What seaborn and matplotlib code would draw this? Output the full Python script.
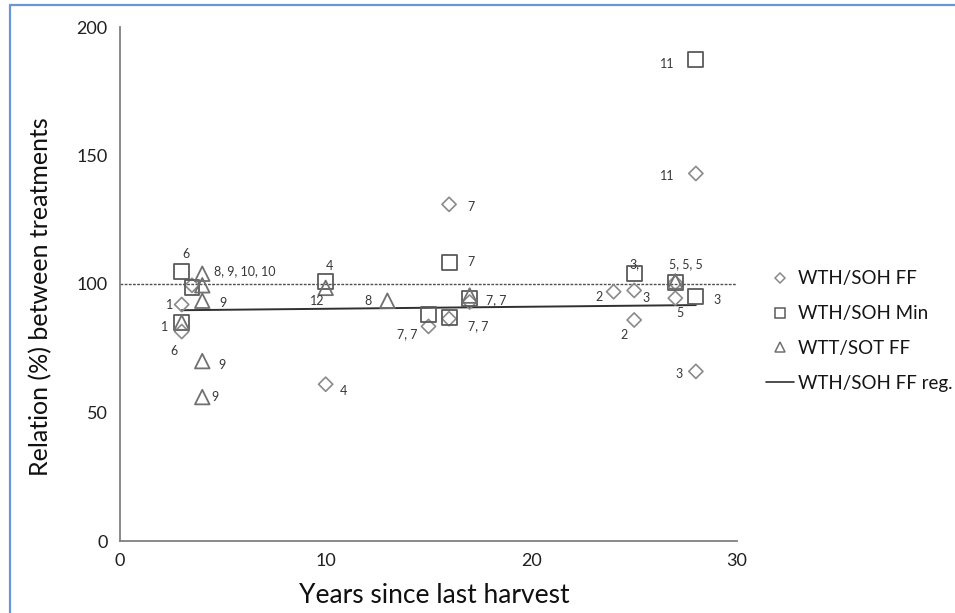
import numpy as np
import pandas as pd
import matplotlib
matplotlib.use("Agg")
import matplotlib.pyplot as plt
from matplotlib.lines import Line2D
import seaborn as sns

# ---- data ------------------------------------------------------------------
ff_years = [3, 3, 3.5, 10, 15, 16, 16, 17, 24, 25, 25, 27, 27, 28, 28]
ff_rel   = [92, 81.5, 99.5, 61, 83.5, 131, 86.5, 93, 97, 97.5, 86, 100.5, 94.5, 66, 143]

min_years = [3, 3, 3.5, 10, 15, 16, 16, 17, 25, 27, 28, 28]
min_rel   = [105, 85, 98.5, 101, 88, 108.5, 87, 94.5, 104, 100.5, 95, 187.5]

wtt_years = [4, 4, 4, 3, 4, 4, 10, 13, 17, 27]
wtt_rel   = [104, 99.5, 93.5, 85, 70, 56, 98.5, 93.5, 95.5, 101]

reg_years = [3, 28]
reg_rel   = [89.8, 91.8]

ref_level = 100

# point labels: text, anchor (x, y)
label_text = ["6", "8, 9, 10, 10", "1", "9", "1", "6", "9", "9", "4", "12", "8", "4",
              "7", "7", "7, 7", "7, 7", "7, 7", "3,", "5, 5, 5", "2", "3", "3", "5",
              "2", "3", "11", "11"]
label_x = [3, 4, 3, 4, 3, 3, 4, 4, 10, 10, 13, 10,
           16, 16, 17, 15, 16, 25, 27, 24, 25, 28, 27,
           25, 28, 28, 28]
label_y = [105, 104, 92, 93.5, 85, 81.5, 70, 56, 101, 98.5, 93.5, 61,
           131, 108.5, 94.5, 83.5, 87, 104, 100.5, 97, 97.5, 95, 94.5,
           86, 66, 187.5, 143]

# layout: label offsets in pixels from anchor, alignment
label_dx = [4, 12, -12, 21, -17, -8, 20, 13, 4, -8, -19, 18,
            22, 22, 16, -21, 19, 0, -6, -15, 12, 21, 5,
            -10, -17, -29, -29]
label_dy = [17, 3, 0, -2, -4, -19, -4, 0, 15, -13, 0, -7,
            -3, 0, -2, -8, -9, 10, 19, -5, -8, -3, -15,
            -15, -3, -5, -3]
label_ha = ["center", "left", "center", "center", "center", "center", "center", "center",
            "center", "center", "center", "center", "center", "center", "left", "center",
            "left", "center", "left", "center", "center", "center", "center", "center",
            "center", "center", "center"]

# ---- style ------------------------------------------------------------------
sns.set_style("white")
plt.rcParams["font.family"] = ["Lato", "DejaVu Sans"]

C_FF  = "#8a8a8a"
C_MIN = "#5a5a5a"
C_WTT = "#707070"
C_TXT = "#383838"
AXIS  = "#808080"

W, H = 955, 613
fig = plt.figure(figsize=(W / 100, H / 100), dpi=100)
ax = fig.add_axes([120 / W, 1 - 541 / H, (737 - 120) / W, (541 - 27) / H])

df_ff = pd.DataFrame({"years": ff_years, "rel": ff_rel})
df_min = pd.DataFrame({"years": min_years, "rel": min_rel})
df_wtt = pd.DataFrame({"years": wtt_years, "rel": wtt_rel})

ax.hlines(ref_level, 0, 30, colors="#505050", linestyles=(0, (2, 1)), linewidth=1.0, zorder=1)
sns.lineplot(x=reg_years, y=reg_rel, color="#303030", linewidth=1.4, ax=ax, zorder=2)

sns.scatterplot(data=df_ff, x="years", y="rel", marker="D", s=52,
                facecolor="none", edgecolor=C_FF, linewidth=1.2, ax=ax, zorder=3)
sns.scatterplot(data=df_min, x="years", y="rel", marker="s", s=115,
                facecolor="none", edgecolor=C_MIN, linewidth=1.3, ax=ax, zorder=3)
sns.scatterplot(data=df_wtt, x="years", y="rel", marker="^", s=110,
                facecolor="none", edgecolor=C_WTT, linewidth=1.3, ax=ax, zorder=3)

for t, x, y, dx, dy, ha in zip(label_text, label_x, label_y, label_dx, label_dy, label_ha):
    ax.annotate(t, (x, y), xytext=(dx, dy), textcoords="offset pixels",
                ha=ha, va="center", fontsize=9, color=C_TXT)

ax.set_xlim(0, 30)
ax.set_ylim(0, 200)
ax.set_xticks([0, 10, 20, 30])
ax.set_yticks([0, 50, 100, 150, 200])
ax.tick_params(axis="both", length=0, labelsize=13, labelcolor="#202020")
ax.tick_params(axis="y", pad=9)
ax.tick_params(axis="x", pad=9)
sns.despine(ax=ax)
for side in ["left", "bottom"]:
    ax.spines[side].set_color(AXIS)
    ax.spines[side].set_linewidth(1.3)

ax.set_xlabel("Years since last harvest", fontsize=19, color="#101010")
ax.set_ylabel("Relation (%) between treatments", fontsize=18, color="#101010")
ax.xaxis.set_label_coords(0.51, -0.082)
ax.yaxis.set_label_coords(-0.110, 0.475)

handles = [
    Line2D([], [], marker="D", ls="none", ms=5, mfc="none", mec=C_FF, mew=1.1),
    Line2D([], [], marker="s", ls="none", ms=7, mfc="none", mec=C_MIN, mew=1.1),
    Line2D([], [], marker="^", ls="none", ms=7, mfc="none", mec=C_WTT, mew=1.1),
    Line2D([], [], color="#303030", lw=1.2),
]
names = ["WTH/SOH FF", "WTH/SOH Min", "WTT/SOT FF", "WTH/SOH FF reg."]
fig.legend(handles, names, loc="center left", bbox_to_anchor=(766 / W, 1 - 331 / H),
           frameon=False, fontsize=13.5, handlelength=1.5, handletextpad=0.2,
           labelspacing=0.95, borderpad=0, borderaxespad=0)
for txt in fig.legends[0].get_texts():
    txt.set_color("#151515")

# blue frame (top and left edges visible)
fig.add_artist(Line2D([10 / W, 1], [1 - 5 / H, 1 - 5 / H], transform=fig.transFigure,
                      color="#6a96d6", lw=1.6))
fig.add_artist(Line2D([10 / W, 10 / W], [0, 1 - 5 / H], transform=fig.transFigure,
                      color="#6a96d6", lw=1.6))

fig.savefig("out.png", dpi=100, facecolor="white")
